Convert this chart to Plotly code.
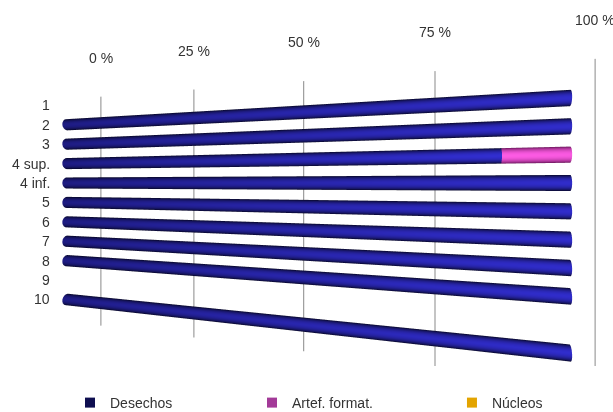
import numpy as np
import plotly.graph_objects as go

# ---- data -------------------------------------------------------------
categories = ["1", "2", "3", "4 sup.", "4 inf.", "5", "6", "7", "8", "9", "10"]
desechos = [None, 100, 100, 90.2, 100, 100, 100, 100, 100, None, 100]
artef_format = [None, 0, 0, 9.8, 0, 0, 0, 0, 0, None, 0]
nucleos = [None, 0, 0, 0, 0, 0, 0, 0, 0, None, 0]
pct_ticks = [0, 25, 50, 75, 100]
tick_labels = ["0 %", "25 %", "50 %", "75 %", "100 %"]

series = [
    # name, values, shadow colour, lit colour, legend colour, legend id, legend x
    ("Desechos", desechos, (5, 5, 30), (50, 46, 210), "#0e0e50", "legend", 0.1142),
    ("Artef. format.", artef_format, (95, 16, 80), (255, 92, 230), "#a33a98", "legend2", 0.4111),
    ("Núcleos", nucleos, (150, 95, 0), (245, 190, 20), "#e3a400", "legend3", 0.7373),
]

# ---- 3D geometry ------------------------------------------------------
# data units: x = percent, y = depth (row units), z = -row index
PCT_W = 0.010016         # world length of 1 %
ROW_W = 0.04393          # world length of one row
RADIUS = 0.285           # cylinder radius in rows
N_SIDES = 48
GRID_SHIFT = 4.72        # grid wall offset along the value axis (percent)
GRID_DEPTH = 1.17        # grid wall behind the bars (rows)
GRID_TOP, GRID_BOTTOM = 0.60, -11.6

X_RANGE = [-2, 107]
Y_RANGE = [-1, 2]
Z_RANGE = [-12, 1]

# viewer position (data units) and viewing direction (world)
CAM_DATA = np.array([82.76, -17.73, -4.0])
LOOK_DIR = np.array([-0.3143, 0.9493, 0.0])
SCENE_BOTTOM_PX = 366    # scene viewport spans the top 366 px

unit = np.array([PCT_W, ROW_W, ROW_W])
cam_world = CAM_DATA * unit


def to_world(x, y, z):
    return np.stack([np.asarray(x) * PCT_W, np.asarray(y) * ROW_W, np.asarray(z) * ROW_W], axis=-1)


def cylinder(x0, x1, zc, dark, bright):
    n = N_SIDES
    phi = np.linspace(0, 2 * np.pi, n, endpoint=False)
    cy, cz = RADIUS * np.cos(phi), RADIUS * np.sin(phi)
    xs = np.concatenate([np.full(n, x0), np.full(n, x1), [x0, x1]])
    ys = np.concatenate([cy, cy, [0.0, 0.0]])
    zs = np.concatenate([zc + cz, zc + cz, [zc, zc]])
    ii, jj, kk = [], [], []
    for a in range(n):
        b = (a + 1) % n
        ii += [a, b, 2 * n, 2 * n + 1]
        jj += [b, n + b, b, n + a]
        kk += [n + a, n + a, a, n + b]
    normals = np.concatenate([
        np.stack([np.zeros(n), np.cos(phi), np.sin(phi)], axis=1),
        np.stack([np.zeros(n), np.cos(phi), np.sin(phi)], axis=1),
        [[-1.0, 0, 0], [1.0, 0, 0]],
    ])
    pos = to_world(xs, ys, zs)
    view = cam_world - pos
    view /= np.linalg.norm(view, axis=1, keepdims=True)
    shade = np.clip((normals * view).sum(axis=1), 0, 1) ** 1.5
    d, b_ = np.array(dark, float), np.array(bright, float)
    cols = d[None, :] + (b_ - d)[None, :] * shade[:, None]
    cols[-2:] = d
    vcol = ["rgb(%d,%d,%d)" % tuple(c) for c in cols.round().astype(int)]
    return xs, ys, zs, ii, jj, kk, vcol


fig = go.Figure()

# stacked cylinders
starts = [0.0] * len(categories)
for name, vals, dark, bright, *_ in series:
    X, Y, Z, I, J, K, C = [], [], [], [], [], [], []
    for r, v in enumerate(vals):
        if v is None or v <= 0:
            continue
        x0, x1 = starts[r], starts[r] + v
        starts[r] = x1
        xs, ys, zs, ii, jj, kk, vc = cylinder(x0, x1, -r, dark, bright)
        off = len(X)
        X += list(xs); Y += list(ys); Z += list(zs)
        I += [t + off for t in ii]; J += [t + off for t in jj]; K += [t + off for t in kk]
        C += vc
    if X:
        fig.add_trace(go.Mesh3d(
            x=X, y=Y, z=Z, i=I, j=J, k=K, vertexcolor=C, name=name,
            flatshading=False, showlegend=False, hoverinfo="skip",
            lighting=dict(ambient=1.0, diffuse=0.0, specular=0.0, fresnel=0.0, roughness=1.0),
        ))

# value-axis grid wall
for t in pct_ticks:
    fig.add_trace(go.Scatter3d(
        x=[t + GRID_SHIFT] * 2, y=[GRID_DEPTH] * 2, z=[GRID_TOP, GRID_BOTTOM],
        mode="lines", line=dict(color="#a0a0a0", width=2.5),
        showlegend=False, hoverinfo="skip",
    ))

font = dict(family="Liberation Sans, Arial, sans-serif", size=14, color="#333333")

# legend entries, one legend box per series
legend_layout = {}
for name, _, _, _, lc, lid, lx in series:
    fig.add_trace(go.Scatter(
        x=[None], y=[None], mode="markers", name=name, legend=lid,
        marker=dict(symbol="square", size=10, color=lc),
    ))
    legend_layout[lid] = dict(x=lx, y=1 - 403 / 412, xanchor="left", yanchor="middle",
                              orientation="h", font=font, bgcolor="rgba(0,0,0,0)",
                              borderwidth=0)

annotations = []
for r, cat in enumerate(categories):
    annotations.append(dict(x=0, y=0, z=-r, text=cat, showarrow=False,
                            xanchor="right", yanchor="middle", xshift=-15, font=font))
for t, lab in zip(pct_ticks, tick_labels):
    annotations.append(dict(x=t + GRID_SHIFT, y=GRID_DEPTH, z=GRID_TOP, text=lab,
                            showarrow=False, xanchor="center", yanchor="middle",
                            yshift=39, font=font))

ranges = np.array([X_RANGE, Y_RANGE, Z_RANGE], float)
mid = ranges.mean(axis=1)
span = ranges[:, 1] - ranges[:, 0]
aspect = span * unit
eye = (CAM_DATA - mid) * unit
center = eye + LOOK_DIR

hidden = dict(visible=False, showgrid=False, zeroline=False, showline=False,
              showticklabels=False, showbackground=False, showspikes=False, title="")

fig.update_layout(
    width=613, height=412,
    margin=dict(l=0, r=0, t=0, b=0, autoexpand=False),
    paper_bgcolor="white", plot_bgcolor="rgba(0,0,0,0)",
    scene=dict(
        domain=dict(x=[0, 1], y=[1 - SCENE_BOTTOM_PX / 412, 1]),
        xaxis=dict(range=X_RANGE, **hidden),
        yaxis=dict(range=Y_RANGE, **hidden),
        zaxis=dict(range=Z_RANGE, **hidden),
        aspectmode="manual",
        aspectratio=dict(x=aspect[0], y=aspect[1], z=aspect[2]),
        camera=dict(
            eye=dict(x=eye[0], y=eye[1], z=eye[2]),
            center=dict(x=center[0], y=center[1], z=center[2]),
            up=dict(x=0, y=0, z=1),
            projection=dict(type="perspective"),
        ),
        annotations=annotations,
        bgcolor="rgba(0,0,0,0)",
    ),
    xaxis=dict(visible=False, domain=[0, 0.01]),
    yaxis=dict(visible=False, domain=[0, 0.01]),
    showlegend=True,
    **legend_layout,
)

fig.write_html("out.html")
